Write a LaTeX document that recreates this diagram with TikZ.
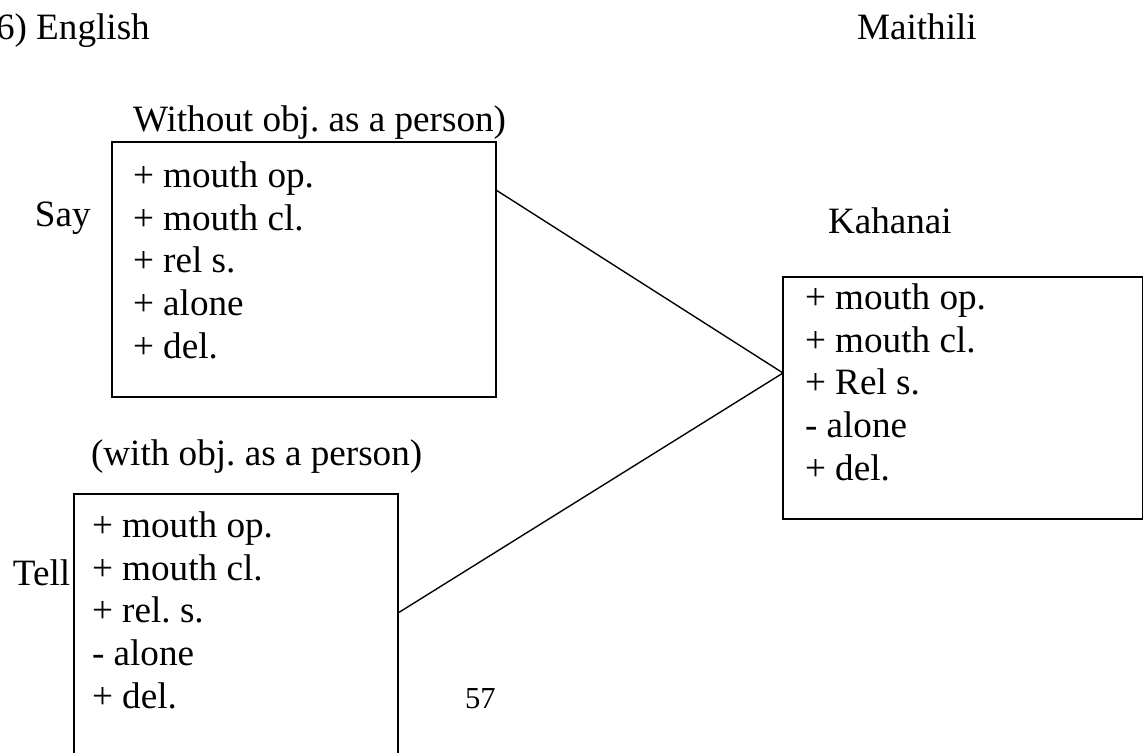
\documentclass[tikz,border=0pt]{standalone}
\usepackage{fontspec}
\setmainfont{Liberation Serif}
\usetikzlibrary{calc}
\frenchspacing
\begin{document}
\begin{tikzpicture}[x=0.327pt,y=-0.327pt,
  every node/.style={inner sep=0pt,outer sep=0pt,font=\fontsize{12.15}{13.9}\selectfont},
  caption/.style={anchor=base west},
  frame/.style={draw,line width=0.5pt,rectangle,anchor=north west},
  % a multi-line node's base is its last line: positions below give the last baseline
  feats/.style={anchor=base west,align=left},
  link/.style={line width=0.45pt}]
\clip (0,0) rectangle (1144,753);
\useasboundingbox (0,0) rectangle (1144,753);

% headings
\node[caption] (english) at (-4,39) {6) English};
\node[caption] (maithili) at (857,39) {Maithili};

% English: say
\node[caption] (without) at (133,131) {Without obj. as a person)};
\node[frame,minimum width=384*0.327pt,minimum height=255*0.327pt] (saybox) at (112,142) {};
\node[caption] (say) at (35,226) {Say};
\node[feats] (sayfeats) at (133,358) {+ mouth op.\\+ mouth cl.\\+ rel s.\\+ alone\\+ del.};

% English: tell
\node[caption] (with) at (91,465) {(with obj. as a person)};
\node[frame,minimum width=324*0.327pt,minimum height=300*0.327pt] (tellbox) at (74,494) {};
\node[caption] (tell) at (13,585) {Tell};
\node[feats] (tellfeats) at (92,708) {+ mouth op.\\+ mouth cl.\\+ rel. s.\\- alone\\+ del.};

% Maithili: kahanai
\node[caption] (kahanai) at (828,233) {Kahanai};
\node[frame,minimum width=359.5*0.327pt,minimum height=242*0.327pt] (kahbox) at (783,277) {};
\node[feats] (kahfeats) at (805,480) {+ mouth op.\\+ mouth cl.\\+ Rel s.\\- alone\\+ del.};

% page number
\node[caption,font=\fontsize{10}{12}\selectfont] (page) at (465,708) {57};

% connectors
\coordinate (sayport) at ($(saybox.north east)+(0,48)$);
\coordinate (tellport) at ($(tellbox.north east)+(0,119)$);
\coordinate (join) at ($(kahbox.north west)+(0,96)$);
\draw[link] (sayport) -- (join) -- (tellport);
\end{tikzpicture}
\end{document}
